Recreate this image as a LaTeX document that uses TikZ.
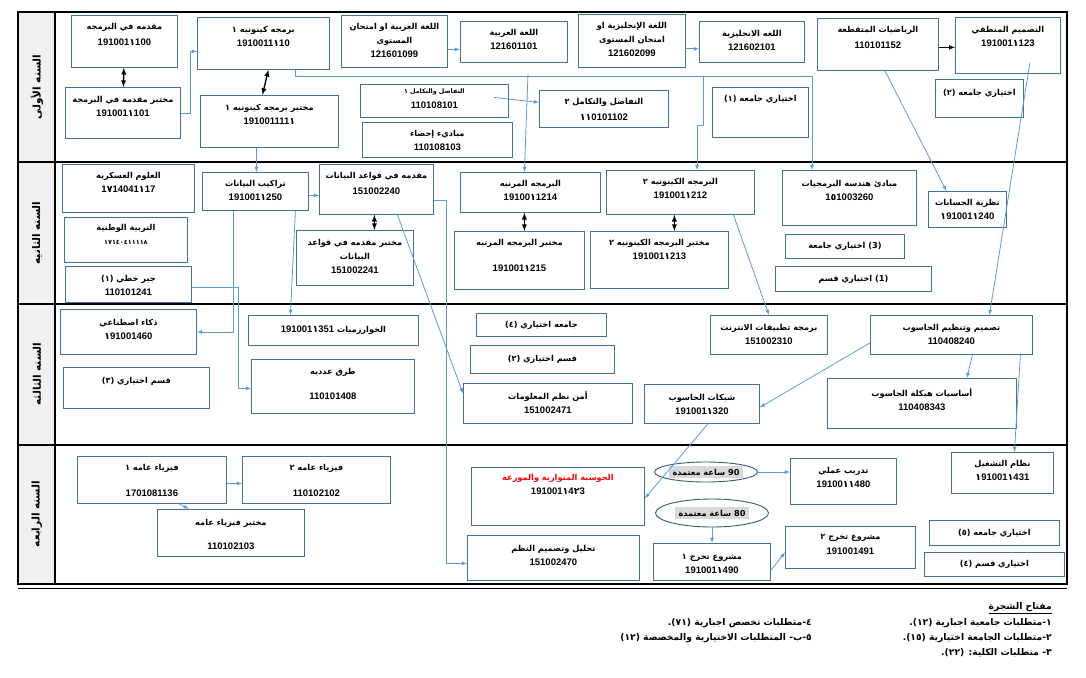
\documentclass[tikz,border=0pt]{standalone}
\usepackage{fontspec}
\usetikzlibrary{arrows,shapes.geometric}
\TeXXeTstate=1
\newfontfamily\arabicfont[Script=Arabic]{DejaVu Sans}
\newfontfamily\codefont{Liberation Sans}
\definecolor{boxblue}{RGB}{65,113,156}
\definecolor{linkblue}{RGB}{91,155,213}
\definecolor{colgray}{RGB}{240,240,240}
\definecolor{hlgray}{RGB}{217,217,217}
\newcommand\artext[1]{\beginR #1\endR}
\newcommand\ai[1]{{\arabicfont #1}}
\newcommand\code[1]{{\codefont\bfseries\fontsize{9.5}{14}\selectfont #1}}
% box at its top left corner, text hung from its top
\newcommand\course[6][8]{%
  \node[crs, anchor=north west, minimum width=#4pt, minimum height=#5pt] (#2) at #3 {};
  \node[crstxt, anchor=north] (#2-t) at ([yshift=-#1pt]#2.north) {#6};}
\tikzset{
  crs/.style={draw=boxblue, line width=0.8pt, inner sep=0pt},
  crstxt/.style={align=center, inner sep=0pt, font=\arabicfont\bfseries\fontsize{8.2}{14}\selectfont},
  crsone/.style={crs, anchor=north west, font=\arabicfont\bfseries\fontsize{8.2}{14}\selectfont},
  link/.style={draw=linkblue, line width=0.8pt, -latex},
  dbl/.style={draw=black, line width=1.3pt, latex-latex},
  frame/.style={draw=black, line width=1.6pt},
  yearlbl/.style={rotate=90, inner sep=0pt, font=\arabicfont\bfseries\fontsize{10.5}{12}\selectfont},
  credit/.style={ellipse, draw=boxblue!80!black, line width=0.9pt, inner sep=0pt},
  hltxt/.style={fill=hlgray, inner xsep=4pt, inner ysep=3pt, font=\arabicfont\bfseries\fontsize{8.2}{10}\selectfont},
  keytxt/.style={anchor=east, inner sep=0pt, font=\arabicfont\bfseries\fontsize{9.2}{11}\selectfont},
}
\begin{document}
\begin{tikzpicture}[x=1pt, y=-1pt]
\useasboundingbox (0,0) rectangle (1086,677);
% frame and year column
\fill[colgray] (18,12) rectangle (55,584);
\draw[frame] (18,12) rectangle (1067,584);
\draw[frame] (55,12) -- (55,584);
\draw[frame] (18,162) -- (1067,162);
\draw[frame] (18,304) -- (1067,304);
\draw[frame] (18,445) -- (1067,445);
\draw[black, line width=0.8pt] (18,588) -- (1067,588);
\node[yearlbl] (year1) at (37,87) {\artext{السنه الأولى}};
\node[yearlbl] (year2) at (37,233) {\artext{السنه الثانيه}};
\node[yearlbl] (year3) at (37,374) {\artext{السنه الثالثه}};
\node[yearlbl] (year4) at (37,514) {\artext{السنه الرابعه}};

% first year
\course{A1}{(71,15)}{106}{52}{\artext{مقدمه في البرمجه}\\[2pt]\code{191001\ai{١}100}}
\course[9]{A2}{(65,87)}{115}{51}{\artext{مختبر مقدمة في البرمجة}\\\code{191001\ai{١}101}}
\course[9]{B1}{(197,17)}{132}{52}{\artext{برمجه كينونيه ١}\\\code{1910011\ai{١}10}}
\course[9]{B2}{(200,95)}{138}{52}{\artext{مختبر برمجه كينونيه ١}\\\code{191001111\ai{١}}}
\course{C1}{(341,15)}{106}{52}{\artext{اللغة العربية او امتحان}\\\artext{المستوى}\\\code{121601099}}
\course{C2}{(460,21)}{107}{41}{\artext{اللغة العربية}\\\code{121601101}}
\course[5]{D1}{(360,84)}{148}{33}{{\fontsize{6.3}{8}\selectfont\artext{التفاضل والتكامل ١}}\\[1pt]\code{110108101}}
\course{D2}{(539,90)}{129}{37}{\artext{التفاضل والتكامل ٢}\\[2pt]\code{\ai{١١}0101102}}
\course{D3}{(362,122)}{150}{35}{\artext{مباديء إحصاء}\\\code{110108103}}
\course{E1}{(578,14)}{107}{53}{\artext{اللغة الإنجليزية او}\\\artext{امتحان المستوى}\\\code{121602099}}
\course[9]{E2}{(699,21)}{105}{41}{\artext{اللغه الانجليزية}\\\code{121602101}}
\course{E3}{(712,87)}{96}{50}{\artext{اختياري جامعه (١)}}
\course{F1}{(817,18)}{121}{52}{\artext{الرياضيات المتقطعة}\\[2pt]\code{110101152}}
\course[9]{F2}{(955,17)}{105}{56}{\artext{التصميم المنطقي}\\\code{191001\ai{١}123}}
\course[10]{F3}{(935,79)}{88}{38}{\artext{اختياري جامعه (٢)}}

% second year
\course{G1}{(62,164)}{132}{48}{\artext{العلوم العسكرية}\\\code{1\ai{٧}14041\ai{١}17}}
\course[7]{G2}{(64,217)}{123}{45}{\artext{التربية الوطنية}\\{\fontsize{6.5}{8}\selectfont ١٧١٤٠٤١١١١٨}}
\course[9]{G3}{(65,266)}{126}{36}{\artext{جبر خطي (١)}\\\code{110101241}}
\course{H1}{(202,172)}{106}{38}{\artext{تراكيب البيانات}\\\code{191001\ai{١}250}}
\course{I1}{(319,164)}{114}{50}{\artext{مقدمه في قواعد البيانات}\\[2pt]\code{151002240}}
\course[9]{I2}{(296,230)}{117}{55}{\artext{مختبر مقدمه في قواعد}\\\artext{البيانات}\\\code{151002241}}
\course{K1}{(460,172)}{140}{40}{\artext{البرمجه المرنيه}\\\code{19100\ai{١}1214}}
\course{K2}{(454,231)}{130}{58}{\artext{مختبر البرمجه المرنيه}\\[12pt]\code{191001\ai{١}215}}
\course{L1}{(606,170)}{148}{44}{\artext{البرمجه الكينونيه ٢}\\\code{191001\ai{١}212}}
\course{L2}{(590,231)}{138}{57}{\artext{مختبر البرمجه الكينونيه ٢}\\\code{191001\ai{١}213}}
\course[10]{M1}{(782,170)}{134}{55}{\artext{مبادئ هندسة البرمجيات}\\\code{1\ai{٥}1003260}}
\course{N1}{(928,191)}{78}{36}{\artext{نظرية الحسابات}\\\code{\ai{١}91001\ai{١}240}}
\node[crsone, minimum width=119pt, minimum height=24pt] (M2) at (785,234) {\artext{(3) اختياري جامعة}};
\node[crsone, minimum width=156pt, minimum height=25pt] (M3) at (775,266) {\artext{(1) اختياري قسم}};

% third year
\course[10]{AA}{(60,309)}{136}{45}{\artext{ذكاء اصطناعي}\\\code{\ai{١}91001460}}
\course[10]{AB}{(63,367)}{146}{41}{\artext{قسم اختياري (٣)}}
\node[crsone, minimum width=170pt, minimum height=30pt] (AC) at (248,315) {\artext{الخوارزميات \beginL\code{191001\ai{١}351}\endL}};
\course[9]{AD}{(251,359)}{163}{54}{\artext{طرق عدديه}\\[11pt]\code{110101408}}
\node[crsone, minimum width=130pt, minimum height=23pt] (P1) at (476,313) {\artext{جامعه اختياري (٤)}};
\node[crsone, minimum width=144pt, minimum height=28pt] (P2) at (470,345) {\artext{قسم اختياري (٢)}};
\course{P3}{(463,383)}{169}{40}{\artext{أمن نظم المعلومات}\\\code{151002471}}
\course[9]{Q1}{(710,315)}{117}{39}{\artext{برمجة تطبيقات الانترنت}\\\code{151002310}}
\course[9]{R1}{(870,315)}{162}{39}{\artext{تصميم وتنظيم الحاسوب}\\\code{110408240}}
\course[10]{R2}{(827,378)}{189}{50}{\artext{أساسيات هيكلة الحاسوب}\\\code{110408343}}
\course[10]{S1}{(644,384)}{115}{39}{\artext{شبكات الحاسوب}\\\code{191001\ai{١}320}}

% fourth year
\course{Z1}{(77,456)}{149}{47}{\artext{فيزياء عامه ١}\\[12pt]\code{1701081136}}
\course{Z2}{(242,456)}{148}{47}{\artext{فيزياء عامه ٢}\\[12pt]\code{110102102}}
\course[10]{Z3}{(157,509)}{147}{47}{\artext{مختبر فيزياء عامه}\\[10pt]\code{110102103}}
\course[7]{T1}{(471,467)}{173}{58}{\textcolor{red}{\artext{الحوسبة المتوازية والموزعة}}\\\code{191001\ai{١}4\ai{٢}3}}
\course[9]{U1}{(790,458)}{106}{46}{\artext{تدريب عملي}\\\code{19100\ai{١١}480}}
\course{V1}{(951,452)}{102}{41}{\artext{نظام التشغيل}\\\code{\ai{١}91001\ai{١}431}}
\course[11]{W1}{(653,543)}{117}{37}{\artext{مشروع تخرج ١}\\\code{191001\ai{١}490}}
\course{W2}{(785,526)}{130}{42}{\artext{مشروع تخرج ٢}\\[1pt]\code{191001491}}
\node[crsone, minimum width=130pt, minimum height=25pt] (X1) at (929,520) {\artext{اختياري جامعه (٥)}};
\node[crsone, minimum width=140pt, minimum height=24pt] (X2) at (924,552) {\artext{اختياري قسم (٤)}};
\course[10]{Y1}{(467,535)}{172}{45}{\artext{تحليل وتصميم النظم}\\\code{151002470}}
\node[credit, minimum width=103pt, minimum height=20pt] (H90) at (706,472) {};
\node[hltxt] (H90-t) at (H90) {\artext{90 ساعة معتمدة}};
\node[credit, minimum width=113pt, minimum height=28pt] (H80) at (712,513) {};
\node[hltxt] (H80-t) at (H80) {\artext{80 ساعة معتمدة}};

% co-requisites
\draw[dbl] (A1) -- (A2);
\draw[dbl] ([xshift=5pt]B1.south) -- ([xshift=-7pt]B2.north);
\draw[dbl] ([xshift=-2pt]I1.south) -- ([xshift=-2pt]I1.south |- I2.north);
\draw[dbl] ([xshift=-6pt]K1.south) -- ([xshift=-6pt]K1.south |- K2.north);
\draw[dbl] ([xshift=-6pt]L1.south) -- ([xshift=-6pt]L1.south |- L2.north);

% prerequisites
\coordinate (busK) at (528,76);
\coordinate (busM) at (703,76);
\coordinate (busE) at (812,76);
\draw[link] (A2.east) -- ++(10,0) |- ([yshift=-8pt]B1.west);
\draw[link] ([xshift=32pt]B1.south) |- (busE) -- (busE |- M1.north);
\draw[link] (busM) -- ++(0,49) -- ++(-6,0) -- ++(0,45);
\draw[link] ([yshift=2pt]busK) -- ([xshift=-6pt]K1.north);
\draw[link] ([yshift=-8pt]C1.east) -- ([yshift=-8pt]C1.east -| C2.west);
\draw[link] ([yshift=-8pt]E1.east) -- ([yshift=-8pt]E1.east -| E2.west);
\draw[black, line width=1pt, -latex] ([yshift=-3pt]F1.east) -- ([yshift=-3pt]F1.east -| F2.west);
\draw[link] ([shift={(-15pt,3.5pt)}]D1.east) -- ([yshift=6.5pt]D2.west);
\draw[link] ([xshift=7pt]F1.south) -- ([xshift=-21pt]N1.north);
\draw[link] ([shift={(22pt,11pt)}]F2.south) -- ([xshift=38pt]R1.north);
\draw[link] ([xshift=-13pt]B2.south) -- ([xshift=-13pt]B2.south |- H1.north);
\draw[link] ([yshift=-4pt]H1.east) -- ([yshift=-4pt]H1.east -| I1.west);
\draw[link] ([xshift=-22pt]H1.south) |- (AA.east);
\draw[link] ([xshift=40pt]H1.south) -- ([xshift=-43pt]AC.north);
\draw[link] ([yshift=-3pt]G3.east) -- ++(47,0) |- ([yshift=-2pt]AD.west);
\draw[link] ([xshift=21pt]I1.south) -- ([yshift=10pt]P3.west);
\draw[link] ([yshift=-11pt]I1.east) -- ++(13,0) |- ([yshift=-5.5pt]Y1.west);
\draw[link] ([xshift=53pt]L1.south) -- (Q1.north);
\draw[link] ([xshift=21pt]R1.south) -- ([xshift=45pt]R2.north);
\draw[link] ([yshift=-8pt]R1.west) -- ([yshift=-3.5pt]S1.east);
\draw[link] ([xshift=69pt]R1.south) -- ([xshift=12pt]V1.north);
\draw[link] ([xshift=6pt]S1.south) -- ([yshift=-2pt]T1.east);
\draw[link] ([yshift=-3.5pt]Z1.east) -- ([yshift=-3.5pt]Z1.east -| Z2.west);
\draw[link] ([xshift=27pt]Z1.south) -- ([xshift=-42pt]Z3.north);
\draw[link] (H90.east) -- (H90.east -| U1.west);
\draw[link] (H80.south) -- (H80.south |- W1.north);
\draw[link] ([yshift=-8.5pt]W1.east) -- ([yshift=-5pt]W2.west);

% key
\node[keytxt] (keyhead) at (1052,608) {\underline{\artext{مفتاح الشجرة}}};
\node[keytxt] (key1) at (1052,623) {\artext{١-متطلبات جامعية اجبارية (١٢).}};
\node[keytxt] (key2) at (1052,638) {\artext{٢-متطلبات الجامعة اختيارية (١٥).}};
\node[keytxt] (key3) at (1052,653) {\artext{٣- متطلبات الكلية: (٢٢).}};
\node[keytxt] (key4) at (812,623) {\artext{٤-متطلبات تخصص اجبارية (٧١).}};
\node[keytxt] (key5) at (812,638) {\artext{٥-ب- المتطلبات الاختيارية والمخصصة (١٢)}};
\end{tikzpicture}
\end{document}
